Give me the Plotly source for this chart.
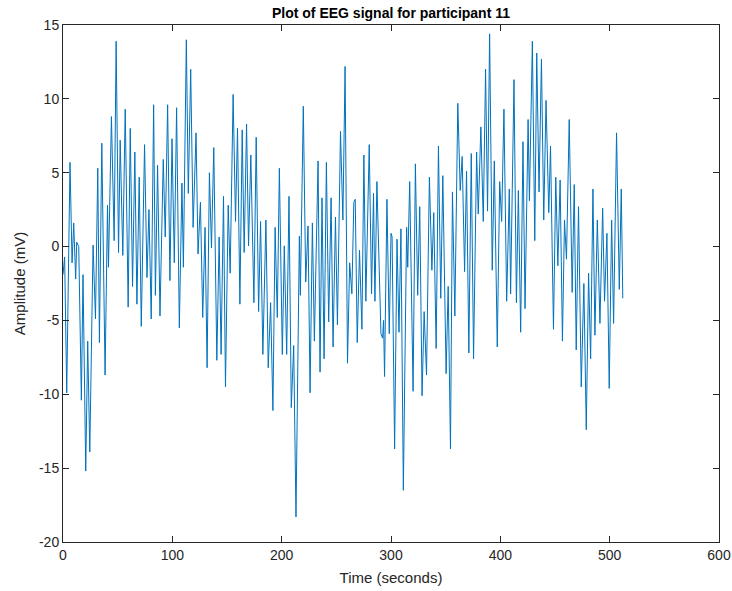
import plotly.graph_objects as go

# Local extrema of the EEG trace (time in seconds, amplitude in mV)
time_s = [0, 1.5, 3.4, 6.4, 8.3, 9.8, 11.6, 12.5, 14.4, 16.8, 18.3, 20.8, 22.6, 24.5, 27.5, 29.7,
          31.8, 33.3, 35.5, 38.5, 40.7, 41.6, 44.3, 46.8, 48.6, 50.8, 52.3, 54.7, 56.9, 59.6, 61.5,
          63.6, 65.7, 67.6, 69.7, 71.6, 74.6, 76.8, 78.6, 80.7, 82.9, 84.5, 86.5, 88.7, 91.7, 93.5,
          95.7, 97.8, 99.7, 101.8, 103.9, 106.4, 108.8, 110.1, 112.8, 114.6, 116.8, 119.0, 121.7,
          123.5, 125.7, 127.8, 129.9, 131.8, 133.9, 135.8, 137.9, 140.7, 142.8, 144.6, 146.8, 148.6,
          151.1, 152.9, 155.6, 157.8, 159.6, 161.8, 163.9, 165.7, 167.9, 169.7, 171.8, 174.6, 176.7,
          178.9, 180.7, 182.8, 185.6, 187.7, 189.9, 192.0, 194.0, 196.0, 197.9, 200.6, 202.4, 204.6,
          206.7, 208.8, 211.0, 213.1, 216.2, 217.1, 219.8, 222.0, 224.1, 226.0, 228.1, 229.9, 233.3,
          235.1, 236.9, 238.8, 240.9, 243.0, 245.2, 247.0, 249.2, 251.0, 253.8, 256.0, 258.0, 260.2,
          262.2, 264.2, 266.0, 267.3, 269.1, 271.2, 273.4, 275.2, 277.0, 280.1, 282.2, 284.0, 285.3,
          287.1, 290.8, 292.3, 293.2, 294.1, 296.3, 298.4, 300.0, 301.0, 303.3, 305.5, 307.3, 309.1,
          311.3, 314.3, 315.3, 317.1, 320.2, 322.3, 324.4, 326.3, 328.4, 330.3, 332.5, 335.1, 337.4,
          339.1, 341.3, 343.4, 345.5, 347.4, 350.4, 352.3, 354.4, 356.2, 358.4, 361.1, 363.3, 365.1,
          367.3, 369.1, 371.2, 373.4, 375.5, 378.3, 379.8, 382.2, 384.4, 386.5, 388.3, 390.2, 392.6,
          394.5, 397.2, 399.4, 401.2, 403.3, 405.8, 408.2, 409.4, 412.5, 414.7, 416.5, 418.6, 420.7,
          422.6, 425.4, 426.6, 429.3, 431.5, 433.3, 435.4, 437.6, 439.7, 441.8, 444.3, 445.9, 448.6,
          450.7, 452.6, 454.7, 456.8, 458.7, 460.5, 463.0, 465.7, 467.6, 469.4, 471.5, 474.0, 476.4,
          478.6, 480.7, 482.6, 484.7, 486.5, 488.7, 491.1, 493.6, 495.3, 497.5, 499.6, 501.8, 503.6,
          506.3, 508.8, 510.6, 512.0]
amplitude_mv = [-1.9, -0.7, -9.9, 5.7, -1.1, 1.6, -2.2, 0.3, 0.0, -10.4, -1.9, -15.2, -6.4, -13.9,
                0.1, -4.9, 5.3, -6.5, 7.0, -8.7, 2.8, -1.4, 8.8, 0.4, 13.9, -0.4, 7.2, -0.6, 9.3,
                -4.1, 8.0, -2.7, 6.4, -3.9, 4.7, -5.4, 6.9, -2.1, 2.5, -4.9, 9.6, -3.3, 5.5, -4.7,
                5.9, 0.65, 9.6, -2.3, 7.3, -1.1, 9.4, -5.5, 4.3, -1.4, 14.0, 3.6, 12.0, 1.3, 7.7,
                -0.5, 3.0, -4.8, 1.3, -8.2, 5.0, -0.1, 6.7, -7.7, 0.65, -7.3, 3.4, -9.5, 2.8, -1.8,
                10.3, 1.7, 8.0, -3.9, 7.9, -0.4, 8.3, 0.05, 6.2, -3.8, 7.4, -4.4, 1.7, -7.3, 1.8,
                -8.2, -3.8, -11.1, 1.3, -4.8, 5.3, -7.3, 0.05, -7.3, 3.4, -10.9, -6.7, -18.3, 0.7,
                -3.3, 9.5, -2.4, 1.4, -9.9, 1.6, -6.4, 5.8, -8.5, 3.3, -7.6, 5.7, -5.1, 3.3, -6.8,
                2.0, -5.3, 7.8, 1.8, 12.2, -7.9, -1.1, -3.2, 3.0, 3.2, -6.5, -0.25, -5.6, 6.2, -3.7,
                6.9, -3.2, 3.6, -3.7, 4.4, -5.9, -6.2, -5.0, -8.8, 3.2, -5.9, 0.9, 0.65, -13.7, 0.5,
                -5.8, 1.2, -16.5, 1.3, -1.4, 4.4, -9.8, 5.6, -3.3, 2.7, -10.1, -4.4, -8.7, 4.7, -1.6,
                2.3, -6.9, 6.8, -3.5, 4.8, -8.6, -2.7, -13.7, 3.7, -4.7, 9.7, 3.8, 6.1, -1.7, 5.1,
                -7.2, 6.3, -7.6, 6.4, 2.2, 8.1, 1.7, 12.0, 2.4, 14.4, -1.6, 5.8, -6.8, 4.4, 1.7, 9.3,
                -3.7, 3.9, -3.2, 11.3, -3.8, 3.8, -5.8, 7.1, -4.2, 8.6, 3.1, 13.9, 0.4, 13.1, 3.7,
                12.7, 1.8, 9.9, 2.3, 6.8, -5.6, 4.7, -1.3, 4.5, -6.4, 1.8, -0.85, 8.6, -3.1, 4.2,
                -7.0, 2.7, -9.5, -2.5, -12.4, -1.8, -7.6, 3.9, -6.0, 1.8, -5.2, 2.6, -3.7, 0.9, -9.6,
                1.8, -5.2, 7.7, -2.9, 3.9, -3.5]

x_ticks = [0, 100, 200, 300, 400, 500, 600]
x_tick_text = ["0", "100", "200", "300", "400", "500", "600"]
y_ticks = [-20, -15, -10, -5, 0, 5, 10, 15]
y_tick_text = ["-20", "-15", "-10", "-5", "0", "5", "10", "15"]

axis_color = "#262626"
font_family = "Liberation Sans, Arial, Helvetica, sans-serif"

fig = go.Figure()
fig.add_trace(go.Scatter(x=time_s, y=amplitude_mv, mode="lines",
                         line=dict(color="#0072BD", width=1), showlegend=False))

axis_common = dict(showline=True, linecolor=axis_color, linewidth=1, mirror="ticks",
                   ticks="inside", ticklen=6, tickcolor=axis_color, tickwidth=1,
                   showgrid=False, zeroline=False, automargin=False,
                   tickfont=dict(family=font_family, size=14, color=axis_color))

fig.update_layout(
    width=732, height=591,
    paper_bgcolor="white", plot_bgcolor="white",
    margin=dict(l=63, r=13, t=25, b=49),
    title=dict(text="<b>Plot of EEG signal for participant 11</b>",
               font=dict(family=font_family, size=14, color="black"),
               xref="paper", x=0.5, xanchor="center",
               yref="container", y=0.977, yanchor="middle"),
    xaxis=dict(range=[0, 600], tickvals=x_ticks, ticktext=x_tick_text,
               title=dict(text="Time (seconds)", standoff=10,
                          font=dict(family=font_family, size=15, color=axis_color)),
               **axis_common),
    yaxis=dict(range=[-20, 15], tickvals=y_ticks, ticktext=y_tick_text,
               title=dict(text="Amplitude (mV)", standoff=9,
                          font=dict(family=font_family, size=15, color=axis_color)),
               **axis_common),
)

fig.write_html("out.html", config={"displayModeBar": False},
               post_script="document.body.style.margin='0';document.body.style.padding='0';")
